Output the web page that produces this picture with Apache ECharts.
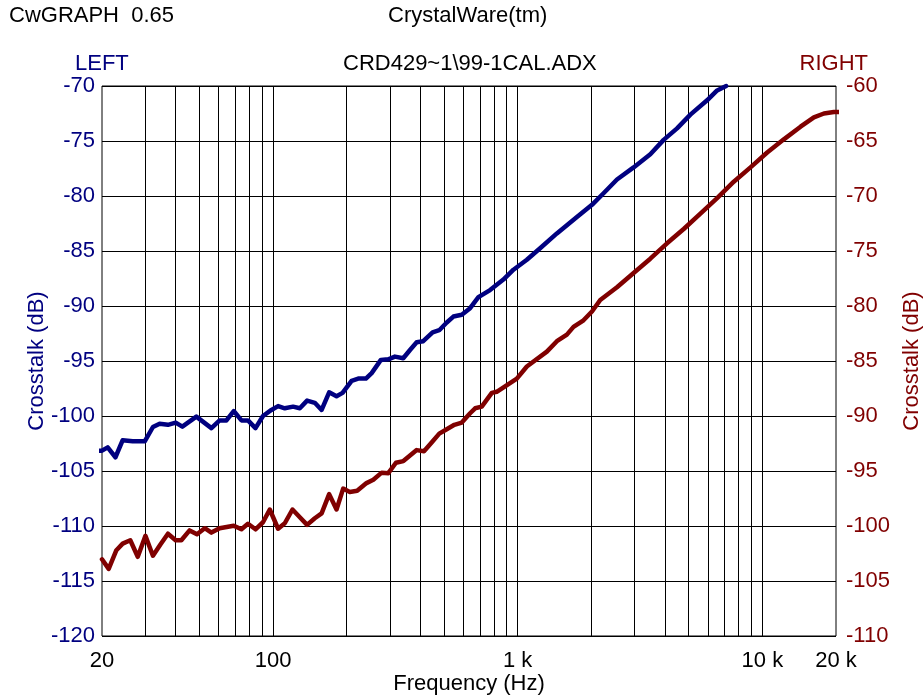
<!DOCTYPE html>
<html><head><meta charset="utf-8">
<script src="https://cdn.jsdelivr.net/npm/echarts@6/dist/echarts.min.js"></script>
<style>html,body{margin:0;padding:0;background:#fff}#c{width:924px;height:698px}</style>
</head><body><div id="c"></div>
<script>
// LEFT channel (left axis, dB)
const leftFreq = [18.7,20,21.1,22.7,24.3,26.7,29.9,32.3,34.4,37.2,40,42.6,48.6,56,60.5,64.5,69.1,74.3,79,84.8,91,98.5,104.9,111.7,120.8,128.7,137.8,148.2,158,169.6,181.8,192.4,209.5,222.9,239.7,253,276,295.8,315,340.6,363,386.5,411,449,478,513,546,591,639,691,771,874,961,1090,1235,1446,1746,2012,2244,2546,2977,3484,3950,4482,5080,5946,6534,7112];
const leftDb = [-103.15,-103.15,-102.85,-103.75,-102.2,-102.3,-102.3,-101.0,-100.7,-100.8,-100.6,-100.97,-100.06,-101.1,-100.4,-100.4,-99.55,-100.4,-100.4,-101.1,-100.0,-99.45,-99.1,-99.3,-99.15,-99.3,-98.6,-98.8,-99.45,-97.85,-98.2,-97.9,-96.8,-96.6,-96.6,-96.1,-94.9,-94.85,-94.6,-94.75,-94.0,-93.3,-93.2,-92.4,-92.2,-91.5,-90.96,-90.8,-90.2,-89.2,-88.55,-87.6,-86.7,-85.8,-84.75,-83.4,-81.9,-80.8,-79.75,-78.5,-77.4,-76.2,-74.9,-73.85,-72.6,-71.3,-70.4,-70.0];
// RIGHT channel (right axis, dB)
const rightFreq = [20,21.3,22.9,24.3,26.1,28,30.1,32.3,34.6,37.2,40,42.2,45.6,48.9,52.6,56,60.5,69.1,74.3,79,84.8,91,97,104.9,111.7,120.1,128.7,137.8,148.2,158,169.6,181.8,193.5,206,220.8,241,257,278,296,318,341,386.5,414,445,478,513,551,591,639,670,713,784,821,992,1090,1316,1446,1589,1691,1858,2012,2175,2546,2977,3484,4078,4770,5582,6534,7642,8944,10466,12240,14326,16240,17850,19600,21420];
const rightDb = [-103.03,-103.9,-102.2,-101.6,-101.3,-102.8,-100.9,-102.7,-101.7,-100.7,-101.3,-101.3,-100.4,-100.75,-100.2,-100.6,-100.2,-99.97,-100.3,-99.8,-100.3,-99.66,-98.5,-100.25,-99.75,-98.5,-99.2,-99.9,-99.3,-98.85,-97.1,-98.5,-96.6,-96.9,-96.8,-96.1,-95.8,-95.15,-95.2,-94.25,-94.1,-93.1,-93.2,-92.4,-91.6,-91.2,-90.8,-90.6,-89.75,-89.3,-89.15,-87.9,-87.8,-86.6,-85.5,-84.15,-83.2,-82.6,-81.9,-81.3,-80.5,-79.45,-78.3,-77.0,-75.7,-74.3,-73.0,-71.6,-70.2,-68.7,-67.4,-66.05,-64.85,-63.7,-62.85,-62.5,-62.36,-62.36];
// axis ticks
const xTickValues = [20, 100, 1000, 10000, 20000];
const xGridFreqs = [30,40,50,60,70,80,90,100,200,300,400,500,600,700,800,900,1000,2000,3000,4000,5000,6000,7000,8000,9000,10000];
const leftRange = [-120, -70];
const rightRange = [-110, -60];
const yStep = 5;

const FONT = '"Liberation Sans", Arial, sans-serif';
const FS = 22;
const BLUE = '#000080', RED = '#800000';
const pair = (fs, vs) => fs.map((f, i) => [f, vs[i]]);
const txt = (c) => ({fontSize: FS, fontWeight: 'normal', color: c, fontFamily: FONT});

const chart = echarts.init(document.getElementById('c'), null, {renderer: 'canvas'});
chart.setOption({
  animation: false,
  backgroundColor: '#fff',
  title: [
    {text: 'CwGRAPH  0.65', left: 9, top: 5, padding: 0, textStyle: txt('#000')},
    {text: 'CrystalWare(tm)', left: 388, top: 5, padding: 0, textStyle: txt('#000')},
    {text: 'LEFT', left: 75, top: 53, padding: 0, textStyle: txt(BLUE)},
    {text: 'CRD429~1\\99-1CAL.ADX', left: 343, top: 53, padding: 0, textStyle: txt('#000')},
    {text: 'RIGHT', right: 56, top: 53, padding: 0, textStyle: txt(RED)}
  ],
  grid: {left: 102, right: 88, top: 86, bottom: 62, show: true, borderColor: '#000', borderWidth: 1,
         containLabel: false, outerBoundsMode: 'none'},
  xAxis: {
    type: 'log', logBase: 10, min: 20, max: 20000,
    name: 'Frequency (Hz)', nameLocation: 'middle', nameGap: 37, nameMoveOverlap: false,
    nameTextStyle: {fontSize: FS, color: '#000', fontFamily: FONT},
    axisLine: {show: false}, axisTick: {show: false}, splitLine: {show: false},
    axisLabel: {
      customValues: xTickValues, margin: 14, fontSize: FS, color: '#000', fontFamily: FONT,
      formatter: v => v >= 1000 ? (Math.round(v / 1000) + ' k') : String(Math.round(v))
    }
  },
  yAxis: [
    {
      type: 'value', position: 'left', min: leftRange[0], max: leftRange[1], interval: yStep,
      name: 'Crosstalk (dB)', nameLocation: 'middle', nameRotate: 90, nameGap: 54, nameMoveOverlap: false,
      nameTextStyle: {fontSize: FS, color: BLUE, fontFamily: FONT},
      axisLine: {show: false}, axisTick: {show: false},
      axisLabel: {margin: 7, fontSize: FS, color: BLUE, fontFamily: FONT},
      splitLine: {show: true, lineStyle: {color: '#000', width: 1}}
    },
    {
      type: 'value', position: 'right', min: rightRange[0], max: rightRange[1], interval: yStep,
      name: 'Crosstalk (dB)', nameLocation: 'middle', nameRotate: 90, nameGap: 61,
      nameTextStyle: {fontSize: FS, color: RED, fontFamily: FONT},
      axisLine: {show: false}, axisTick: {show: false},
      axisLabel: {margin: 10, fontSize: FS, color: RED, fontFamily: FONT},
      splitLine: {show: false}
    }
  ],
  series: [
    {
      type: 'line', data: [], z: 1, silent: true,
      markLine: {
        silent: true, symbol: ['none', 'none'], label: {show: false}, animation: false,
        lineStyle: {color: '#000', width: 1, type: 'solid'},
        emphasis: {disabled: true},
        data: xGridFreqs.map(f => ({xAxis: f}))
      }
    },
    {
      name: 'LEFT', type: 'line', yAxisIndex: 0, data: pair(leftFreq, leftDb), z: 5,
      showSymbol: false, clip: false, smooth: false,
      lineStyle: {color: BLUE, width: 4.5, cap: 'round', join: 'round'}, itemStyle: {color: BLUE}
    },
    {
      name: 'RIGHT', type: 'line', yAxisIndex: 1, data: pair(rightFreq, rightDb), z: 5,
      showSymbol: false, clip: false, smooth: false,
      lineStyle: {color: RED, width: 4.5, cap: 'round', join: 'round'}, itemStyle: {color: RED}
    }
  ]
});
</script></body></html>
